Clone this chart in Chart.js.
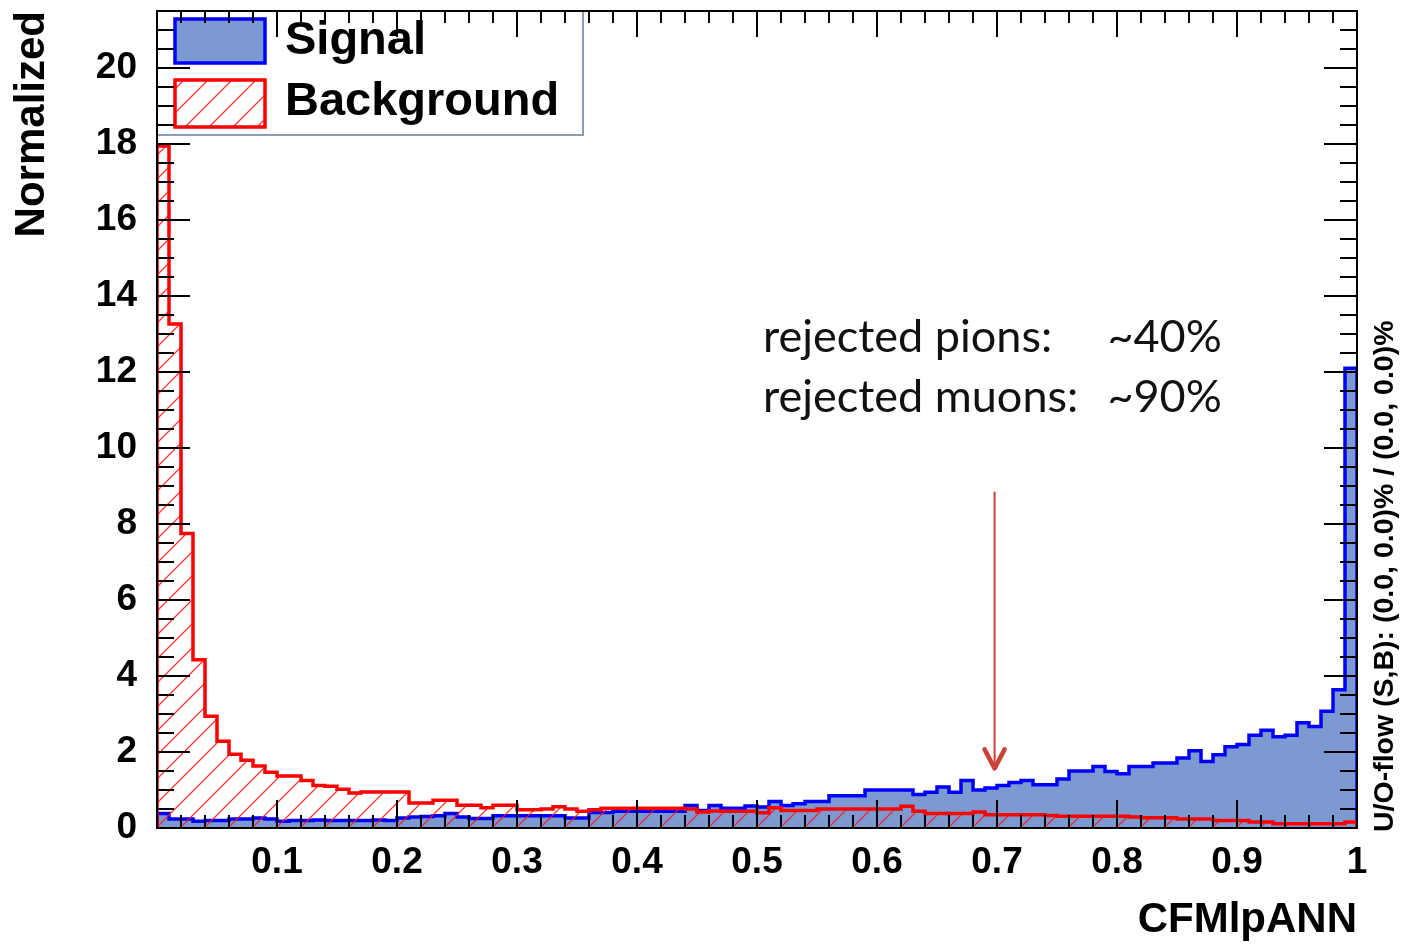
<!DOCTYPE html>
<html>
<head>
<meta charset="utf-8">
<script src="https://cdn.jsdelivr.net/npm/chart.js@4.4.1/dist/chart.umd.min.js"></script>
<style>
  html, body { margin: 0; padding: 0; background: #ffffff; }
  #wrap { width: 1402px; height: 944px; position: relative; }
</style>
</head>
<body>
<div id="wrap"><canvas id="c" width="1402" height="944"></canvas></div>
<script>
// ---- data (100 bins over [0,1]) ----
const binCount = 100;
const xRange = [0, 1];
const signalValues = [
  0.38, 0.24, 0.24, 0.18, 0.20, 0.20, 0.24, 0.24, 0.26, 0.24,
  0.18, 0.20, 0.20, 0.21, 0.20, 0.20, 0.20, 0.20, 0.21, 0.20,
  0.26, 0.29, 0.30, 0.32, 0.38, 0.29, 0.25, 0.25, 0.32, 0.32,
  0.32, 0.32, 0.32, 0.32, 0.26, 0.26, 0.41, 0.41, 0.44, 0.44,
  0.44, 0.44, 0.44, 0.44, 0.59, 0.46, 0.59, 0.52, 0.52, 0.58,
  0.55, 0.70, 0.59, 0.64, 0.70, 0.70, 0.85, 0.85, 0.85, 1.00,
  1.00, 1.00, 1.00, 0.88, 0.94, 1.08, 0.94, 1.25, 1.00, 1.05,
  1.12, 1.20, 1.25, 1.14, 1.14, 1.29, 1.50, 1.50, 1.62, 1.49,
  1.43, 1.62, 1.62, 1.71, 1.71, 1.84, 2.03, 1.75, 1.93, 2.14,
  2.20, 2.44, 2.57, 2.40, 2.44, 2.77, 2.67, 3.07, 3.64, 12.10
];
const backgroundValues = [
  17.95, 13.26, 7.75, 4.43, 2.94, 2.28, 1.94, 1.78, 1.63, 1.47,
  1.37, 1.37, 1.25, 1.12, 1.10, 1.02, 0.92, 0.95, 0.95, 0.95,
  0.95, 0.66, 0.66, 0.73, 0.73, 0.60, 0.60, 0.53, 0.60, 0.60,
  0.48, 0.48, 0.50, 0.56, 0.50, 0.44, 0.48, 0.52, 0.52, 0.52,
  0.52, 0.52, 0.52, 0.52, 0.50, 0.42, 0.45, 0.44, 0.44, 0.44,
  0.40, 0.53, 0.46, 0.46, 0.46, 0.50, 0.50, 0.50, 0.50, 0.50,
  0.50, 0.50, 0.57, 0.44, 0.38, 0.38, 0.38, 0.38, 0.42, 0.35,
  0.35, 0.35, 0.35, 0.35, 0.33, 0.31, 0.31, 0.31, 0.31, 0.31,
  0.31, 0.29, 0.27, 0.27, 0.27, 0.24, 0.24, 0.24, 0.20, 0.20,
  0.20, 0.16, 0.16, 0.11, 0.11, 0.11, 0.11, 0.11, 0.11, 0.16
];
const xTickValues = [0.1, 0.2, 0.3, 0.4, 0.5, 0.6, 0.7, 0.8, 0.9, 1.0];
const xTickLabels = ['0.1', '0.2', '0.3', '0.4', '0.5', '0.6', '0.7', '0.8', '0.9', '1'];
const yTickValues = [0, 2, 4, 6, 8, 10, 12, 14, 16, 18, 20];
const yTickLabels = ['0', '2', '4', '6', '8', '10', '12', '14', '16', '18', '20'];
const yMax = 21.5;
const seriesNames = ['Signal', 'Background'];
const annotationLines = [['rejected pions:', '~40%'], ['rejected muons:', '~90%']];
const cutValue = 0.698;
const overflowText = 'U/O-flow (S,B): (0.0, 0.0)% / (0.0, 0.0)%';
const xTitle = 'CFMlpANN';
const yTitle = 'Normalized';

// ---- styles ----
const SIG_FILL = 'rgb(124,153,209)';
const SIG_LINE = '#0000ff';
const BKG_LINE = '#ff0000';
const FONT = '"Liberation Sans", Arial, Helvetica, sans-serif';

function makeHatch() {
  const s = 24;
  const c = document.createElement('canvas');
  c.width = s; c.height = s;
  const g = c.getContext('2d');
  g.strokeStyle = 'rgba(255,20,20,0.85)';
  g.lineWidth = 1.3;
  g.beginPath();
  g.moveTo(-2, s + 2); g.lineTo(s + 2, -2);
  g.moveTo(-2 - s, s + 2); g.lineTo(2, -2);
  g.moveTo(s - 2, s + 2); g.lineTo(2 * s + 2, -2);
  g.stroke();
  return c;
}
const hatchCanvas = makeHatch();
const ctx0 = document.getElementById('c').getContext('2d');
const hatchPattern = ctx0.createPattern(hatchCanvas, 'repeat');

function histPoints(vals) {
  // points at bin lower edges; stepped 'before' draws each bin flat
  const w = (xRange[1] - xRange[0]) / binCount;
  const pts = [{x: xRange[0], y: 0}];
  vals.forEach((v, i) => pts.push({x: xRange[0] + i * w, y: v}));
  pts.push({x: xRange[1], y: vals[vals.length - 1]});
  pts.push({x: xRange[1], y: 0});
  return pts;
}

const decorPlugin = {
  id: 'decor',
  afterDatasetsDraw(chart) {
    const {ctx, chartArea: a, scales: {x, y}} = chart;
    ctx.save();
    // legend box
    const lx = a.left, ly = a.top, lw = 426, lh = 124;
    ctx.fillStyle = '#ffffff';
    ctx.fillRect(lx, ly, lw, lh);
    ctx.strokeStyle = '#8e9bb2';
    ctx.lineWidth = 2;
    ctx.strokeRect(lx, ly, lw, lh);
    // swatches
    ctx.fillStyle = SIG_FILL;
    ctx.fillRect(lx + 18, ly + 8, 90, 44);
    ctx.strokeStyle = SIG_LINE; ctx.lineWidth = 3.5;
    ctx.strokeRect(lx + 18, ly + 8, 90, 44);
    ctx.fillStyle = hatchPattern;
    ctx.fillRect(lx + 18, ly + 69, 90, 47);
    ctx.strokeStyle = BKG_LINE; ctx.lineWidth = 3.5;
    ctx.strokeRect(lx + 18, ly + 69, 90, 47);
    ctx.fillStyle = '#000';
    ctx.font = 'bold 47px ' + FONT;
    ctx.textAlign = 'left';
    ctx.textBaseline = 'alphabetic';
    ctx.fillText(chart.data.datasets[0].label, lx + 128, ly + 43);
    ctx.fillText(chart.data.datasets[1].label, lx + 128, ly + 104);

    // ticks
    ctx.strokeStyle = '#000';
    ctx.lineWidth = 2;
    ctx.beginPath();
    for (let k = 0; k <= Math.floor(yMax / 0.5); k++) {
      const v = k * 0.5;
      const major = Math.abs(v / 2 - Math.round(v / 2)) < 1e-6;
      const len = major ? 33 : 17;
      const py = Math.round(y.getPixelForValue(v));
      ctx.moveTo(a.left, py); ctx.lineTo(a.left + len, py);
      ctx.moveTo(a.right, py); ctx.lineTo(a.right - len, py);
    }
    for (let k = 1; k < 50; k++) {
      const v = k * 0.02;
      const major = (k % 5) === 0;
      const px = Math.round(x.getPixelForValue(v));
      ctx.moveTo(px, a.bottom); ctx.lineTo(px, a.bottom - (major ? 28 : 13));
      ctx.moveTo(px, a.top); ctx.lineTo(px, a.top + (major ? 26 : 12));
    }
    ctx.stroke();
    // frame
    ctx.strokeRect(a.left, a.top, a.right - a.left, a.bottom - a.top);

    // annotation text
    ctx.fillStyle = '#111';
    ctx.font = '45px Lato, "Open Sans", sans-serif';
    ctx.textBaseline = 'middle';
    ctx.textAlign = 'left';
    const tx1 = x.getPixelForValue(0.505), tx2 = x.getPixelForValue(0.792);
    const ty = [y.getPixelForValue(12.9), y.getPixelForValue(11.33)];
    annotationLines.forEach((ln, i) => {
      ctx.fillText(ln[0], tx1, ty[i]);
      ctx.fillText(ln[1], tx2, ty[i]);
    });

    // arrow
    const ax = x.getPixelForValue(cutValue);
    const ay0 = y.getPixelForValue(8.85), ay1 = y.getPixelForValue(1.57);
    ctx.strokeStyle = '#cc4238';
    ctx.lineWidth = 2;
    ctx.beginPath(); ctx.moveTo(ax, ay0); ctx.lineTo(ax, ay1 - 2); ctx.stroke();
    ctx.lineWidth = 4.5; ctx.lineCap = 'round'; ctx.lineJoin = 'round';
    ctx.beginPath();
    ctx.moveTo(ax - 10, ay1 - 19); ctx.lineTo(ax, ay1); ctx.lineTo(ax + 10, ay1 - 19);
    ctx.stroke();

    // overflow text (rotated)
    ctx.save();
    ctx.translate(a.right + 28, a.bottom + 4);
    ctx.rotate(-Math.PI / 2);
    ctx.fillStyle = '#000';
    ctx.font = 'bold 28.5px ' + FONT;
    ctx.textAlign = 'left';
    ctx.textBaseline = 'middle';
    ctx.fillText(overflowText, 0, 0);
    ctx.restore();

    ctx.restore();
  }
};

new Chart(ctx0, {
  type: 'line',
  data: {
    datasets: [
      {
        label: seriesNames[0],
        data: histPoints(signalValues),
        stepped: 'before',
        borderColor: SIG_LINE,
        borderWidth: 3.5,
        backgroundColor: SIG_FILL,
        fill: 'origin',
        pointRadius: 0,
        order: 1
      },
      {
        label: seriesNames[1],
        data: histPoints(backgroundValues),
        stepped: 'before',
        borderColor: BKG_LINE,
        borderWidth: 3.5,
        backgroundColor: hatchPattern,
        fill: 'origin',
        pointRadius: 0,
        order: 0
      }
    ]
  },
  options: {
    responsive: false,
    animation: false,
    layout: { padding: { left: 0, right: 45, top: 11, bottom: 0 } },
    plugins: { legend: { display: false }, tooltip: { enabled: false } },
    scales: {
      x: {
        type: 'linear',
        min: xRange[0], max: xRange[1],
        grid: { display: false, drawTicks: false },
        border: { display: false },
        afterBuildTicks: s => { s.ticks = xTickValues.map(v => ({value: v})); },
        afterFit: s => { s.height = 116; s.paddingLeft = 0; s.paddingRight = 0; },
        ticks: {
          autoSkip: false, maxRotation: 0, padding: 13, color: '#000',
          font: { family: FONT, size: 37, weight: 'bold' },
          callback: (v) => { const i = xTickValues.findIndex(t => Math.abs(t - v) < 1e-9); return i >= 0 ? xTickLabels[i] : ''; }
        },
        title: {
          display: true, text: xTitle, align: 'end', color: '#000',
          font: { family: FONT, size: 42, weight: 'bold', lineHeight: 1 },
          padding: { top: 0, bottom: 3 }
        }
      },
      y: {
        type: 'linear',
        min: 0, max: yMax,
        grid: { display: false, drawTicks: false },
        border: { display: false },
        afterBuildTicks: s => { s.ticks = yTickValues.map(v => ({value: v})); },
        afterFit: s => { s.width = 157; s.paddingTop = 0; s.paddingBottom = 0; },
        ticks: {
          autoSkip: false, padding: 20, color: '#000',
          font: { family: FONT, size: 37, weight: 'bold' },
          callback: (v) => { const i = yTickValues.indexOf(v); return i >= 0 ? yTickLabels[i] : ''; }
        },
        title: {
          display: true, text: yTitle, align: 'end', color: '#000',
          font: { family: FONT, size: 42, weight: 'bold', lineHeight: 1 },
          padding: { top: 11, bottom: 0 }
        }
      }
    }
  },
  plugins: [decorPlugin]
});
</script>
</body>
</html>
